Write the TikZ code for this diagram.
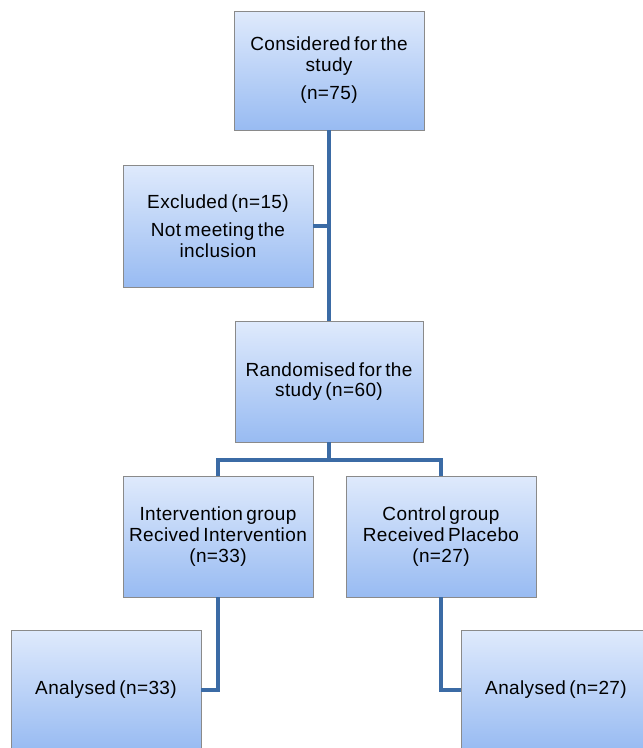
\documentclass[tikz,border=0pt]{standalone}
\usepackage{fontspec}
\setmainfont{Liberation Sans}[WordSpace=0.6, LetterSpace=2]
\definecolor{boxtop}{HTML}{DFEAFC}
\definecolor{boxbot}{HTML}{98BBF2}
\definecolor{boxborder}{HTML}{8A8A8A}
\definecolor{linkblue}{HTML}{3B6BA5}
\begin{document}
\begin{tikzpicture}[x=1pt,y=-1pt,
  box/.style={draw=boxborder, line width=0.8pt, top color=boxtop, bottom color=boxbot,
    minimum width=190pt, minimum height=120pt, align=center, inner sep=0pt,
    font=\fontsize{19}{20.7}\selectfont},
  link/.style={draw=linkblue, line width=4.5pt, line join=miter}]
\useasboundingbox (0,0) rectangle (643,748);
\clip (0,0) rectangle (643,748);
\fill[white] (0,0) rectangle (643,748);
\coordinate (bar) at (0,460);
\node[box, minimum height=119pt] (top) at (329,70.5) {Considered for the\\study\\[7.5pt](n=75)};
\node[box, minimum height=122pt] (excl) at (218,226) {Excluded (n=15)\\[8pt]Not meeting the\\inclusion};
\node[box, minimum width=188pt, minimum height=121pt] (rand) at (329,381.5) {Randomised for the\\study (n=60)};
\node[box, minimum height=121pt] (int) at (218,536.5) {Intervention group\\Recived Intervention\\(n=33)};
\node[box, minimum height=121pt] (ctrl) at (441,536.5) {Control group\\Received Placebo\\(n=27)};
\node[box] (an1) at (106,690) {Analysed (n=33)};
\node[box] (an2) at (556,690) {Analysed (n=27)};
\draw[link] (top.south) -- (rand.north);
\draw[link] (excl.east) -- (excl.east -| top.south);
\draw[link] (rand.south) -- (rand.south |- bar);
\draw[link] (int.north) -- (int.north |- bar) -- (ctrl.north |- bar) -- (ctrl.north);
\draw[link] (int.south) |- (an1.east);
\draw[link] (ctrl.south) |- (an2.west);
\end{tikzpicture}
\end{document}
